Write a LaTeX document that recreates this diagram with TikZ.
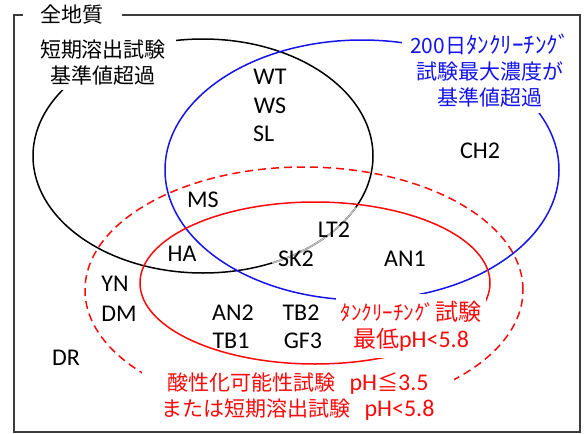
\documentclass[tikz,border=0pt]{standalone}
\usepackage{fontspec}
\setmainfont{Carlito}
\newfontfamily\cjk{Noto Sans CJK JP}
\definecolor{myblue}{RGB}{20,20,235}
\definecolor{myred}{RGB}{250,10,10}
\definecolor{bordergray}{RGB}{60,60,60}
\newcommand\hksize[2]{{\fontsize{#1}{26}\selectfont #2}}
\newcommand\latin[1]{{\fontspec{Carlito}\fontsize{24}{26}\selectfont #1}}
\begin{document}
\begin{tikzpicture}[x=1pt,y=-1pt,
  lat/.style={font=\fontsize{24}{28}\selectfont, inner sep=0pt},
  jp/.style={font=\cjk\fontsize{21}{26}\selectfont, align=center, fill=white},
  ring/.style={line width=1.5pt},
]
\useasboundingbox (0,0) rectangle (587,434);
\fill[white] (0,0) rectangle (587,434);
\draw[line width=1.6pt, bordergray] (14,15) rectangle (580,432);
% sets
\draw[ring, black] (203,156) ellipse [x radius=170pt, y radius=117pt];
\draw[ring, black!25] (203,156) ++(-66:170pt and 117pt) arc[start angle=-66, end angle=-26, x radius=170pt, y radius=117pt];
\draw[ring, myblue] (362,170) ellipse [x radius=197pt, y radius=130pt];
\draw[ring, myred] (315,283) ellipse [x radius=175pt, y radius=81pt];
\draw[ring, myred, dash pattern=on 8pt off 5pt] (304,290) ellipse [x radius=219pt, y radius=123pt];
% titles
\node[jp, inner xsep=18pt, inner ysep=2pt] (all) at (72,15) {全地質};
\node[jp, inner xsep=10pt, inner ysep=4pt] (short) at (103,63) {短期溶出試験\\基準値超過};
\node[jp, text=myblue, inner xsep=8pt, inner ysep=5pt] (tank) at (490,71) {200日\hksize{23}{ﾀﾝｸﾘｰﾁﾝｸﾞ}\\試験最大濃度が\\基準値超過};
\node[jp, text=myred, inner xsep=5pt, inner ysep=7pt, font=\cjk\fontsize{23}{27}\selectfont] (tankph) at (411,326) {\hksize{21}{ﾀﾝｸﾘｰﾁﾝｸﾞ}試験\\最低\latin{pH<5.8}};
\node[jp, text=myred, minimum width=312pt, inner ysep=6pt] (acid) at (298,397) {酸性化可能性試験\hspace{14pt}\latin{pH}≦\latin{3.5}\\または短期溶出試験\hspace{14pt}\latin{pH<5.8}};
% sites
\node[lat] (WT) at (270,77) {WT};
\node[lat] (WS) at (270,105.5) {WS};
\node[lat, anchor=west] (SL) at (253,134) {SL};
\node[lat] (CH2) at (480,151) {CH2};
\node[lat] (MS) at (203,200) {MS};
\node[lat] (LT2) at (334,230) {LT2};
\node[lat] (HA) at (182,254) {HA};
\node[lat] (SK2) at (296,259) {SK2};
\node[lat] (AN1) at (405,259) {AN1};
\node[lat] (YN) at (115,284) {YN};
\node[lat] (DM) at (119,314) {DM};
\node[lat] (AN2) at (233,313) {AN2};
\node[lat] (TB2) at (301,313) {TB2};
\node[lat] (TB1) at (231,341) {TB1};
\node[lat] (GF3) at (303,341) {GF3};
\node[lat] (DR) at (66,358) {DR};
\end{tikzpicture}
\end{document}
